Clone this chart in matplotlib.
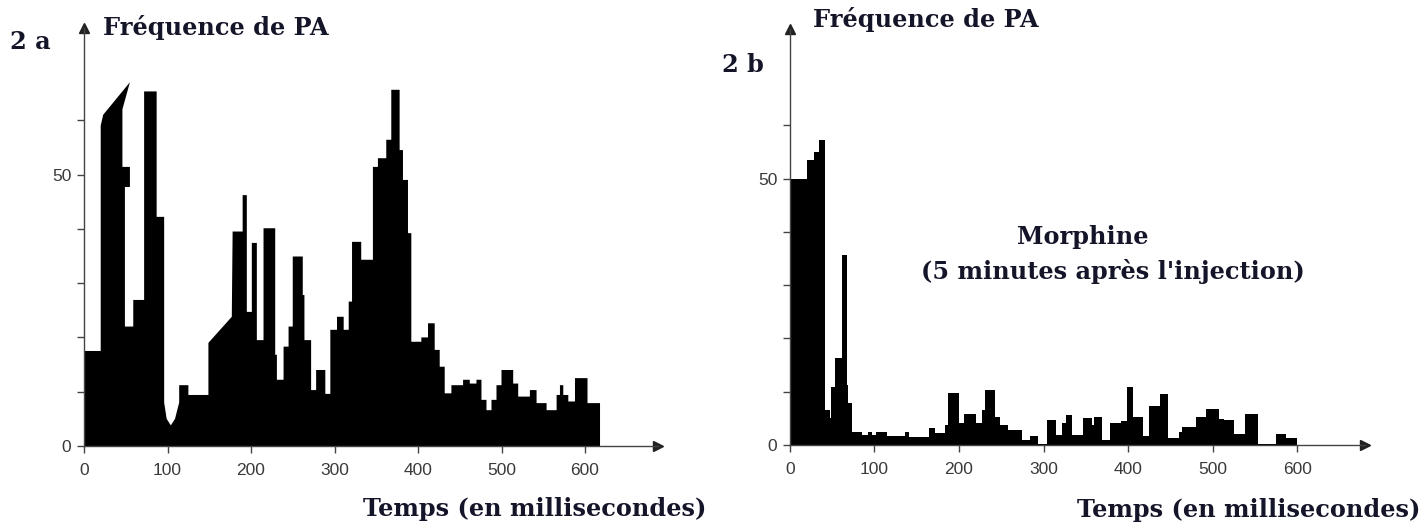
import numpy as np
import matplotlib.pyplot as plt

# 2a : fréquence de PA avant morphine (temps en ms, fréquence)
temps_a = [0, 20, 20, 23, 55, 46, 46, 55, 55, 49, 49, 59, 59, 72, 72, 87, 87, 96,
           96, 99, 104, 109, 114, 114, 125, 125, 149, 149, 177, 178, 190, 190, 195, 195,
           201, 201, 207, 207, 215, 215, 229, 229, 231, 231, 239, 239, 245, 245,
           250, 250, 262, 262, 264, 264, 272, 272, 278, 278, 289, 289, 295, 295,
           303, 303, 311, 311, 317, 317, 321, 321, 332, 332, 346, 346, 352, 352,
           362, 362, 368, 368, 378, 378, 382, 382, 388, 388, 392, 392, 404, 404,
           412, 412, 420, 420, 426, 426, 432, 432, 440, 440, 454, 454, 462, 462,
           470, 470, 476, 476, 482, 482, 488, 488, 494, 494, 500, 500, 514, 514,
           520, 520, 534, 534, 542, 542, 554, 554, 566, 566, 570, 570, 574, 574,
           580, 580, 588, 588, 603, 603, 618, 618]
freq_a = [17.5, 17.5, 59, 61, 67, 62, 51.4, 51.4, 47.7, 47.7, 22, 22, 26.9, 26.9,
          65.3, 65.3, 42.2, 42.2, 8, 5, 3.8, 5, 8, 11.2, 11.2, 9.4, 9.4, 19, 23.8,
          39.5, 39.5, 46.2, 46.2, 24.7, 24.7, 37.4, 37.4, 19.5, 19.5, 40.1, 40.1,
          16.8, 16.8, 12.2, 12.2, 18.3, 18.3, 22, 22, 34.9, 34.9, 27.8, 27.8, 19.5,
          19.5, 10.3, 10.3, 14, 14, 9.6, 9.6, 21.4, 21.4, 23.8, 23.8, 21.4, 21.4,
          26.6, 26.6, 37.6, 37.6, 34.3, 34.3, 51.4, 51.4, 53, 53, 56.4, 56.4, 65.6,
          65.6, 54.5, 54.5, 49, 49, 39.2, 39.2, 19.2, 19.2, 20, 20, 22.6, 22.6,
          17.7, 17.7, 14.6, 14.6, 9.7, 9.7, 11.2, 11.2, 12.2, 12.2, 11.5, 11.5,
          12.2, 12.2, 8.5, 8.5, 6.6, 6.6, 8.5, 8.5, 11.2, 11.2, 14, 14, 11.5, 11.5,
          9.1, 9.1, 10.3, 10.3, 7.9, 7.9, 6.6, 6.6, 9.4, 9.4, 11.2, 11.2, 9.4, 9.4,
          8.2, 8.2, 12.5, 12.5, 7.9, 7.9, 0]

# 2b : après injection de morphine
temps_b = [0, 20, 20, 29, 29, 34, 34, 41, 41, 47, 47, 49, 49, 53, 53, 62, 62, 67,
           67, 69, 69, 74, 74, 85, 85, 92, 92, 97, 97, 102, 102, 115, 115, 136, 136,
           141, 141, 165, 165, 171, 171, 183, 183, 187, 187, 200, 200, 206, 206, 220,
           220, 227, 227, 231, 231, 243, 243, 249, 249, 258, 258, 274, 274, 284, 284,
           293, 293, 304, 304, 315, 315, 322, 322, 327, 327, 334, 334, 346, 346, 357,
           357, 360, 360, 369, 369, 379, 379, 392, 392, 398, 398, 406, 406, 418, 418,
           424, 424, 437, 437, 447, 447, 460, 460, 464, 464, 480, 480, 492, 492, 507,
           507, 513, 513, 525, 525, 538, 538, 554, 554, 575, 575, 587, 587, 600, 600]
freq_b = [50, 50, 53.5, 53.5, 55, 55, 57.2, 57.2, 6.6, 6.6, 5.1, 5.1, 10.9, 10.9,
          16.3, 16.3, 35.6, 35.6, 11.3, 11.3, 7.9, 7.9, 2.5, 2.5, 1.9, 1.9, 2.5, 2.5,
          1.9, 1.9, 2.5, 2.5, 1.6, 1.6, 2.5, 2.5, 1.5, 1.5, 3.1, 3.1, 2.2, 2.2, 3.75,
          3.75, 9.7, 9.7, 4.1, 4.1, 5.9, 5.9, 4.1, 4.1, 6.6, 6.6, 10.3, 10.3, 5.3,
          5.3, 3.75, 3.75, 2.8, 2.8, 0.9, 0.9, 1.7, 1.7, 0.2, 0.2, 4.7, 4.7, 1.9,
          1.9, 4.1, 4.1, 5.6, 5.6, 1.9, 1.9, 5, 5, 3.8, 3.8, 5.3, 5.3, 0.9, 0.9, 4.1,
          4.1, 4.5, 4.5, 10.8, 10.8, 5.2, 5.2, 1.75, 1.75, 7.4, 7.4, 9.6, 9.6, 1.4,
          1.4, 2.4, 2.4, 3.3, 3.3, 5.2, 5.2, 6.75, 6.75, 4.9, 4.9, 4.6, 4.6, 2.1,
          2.1, 5.8, 5.8, 0.1, 0.1, 2.1, 2.1, 1.25, 1.25, 0]

x_ticks = [0, 100, 200, 300, 400, 500, 600]
y_ticks = [0, 10, 20, 30, 40, 50, 60]
y_labels = ['0', '', '', '', '', '50', '']

W, H = 1427, 524
fig = plt.figure(figsize=(W / 100, H / 100), dpi=100)

titre = dict(family='DejaVu Serif', weight='bold', color='#15152a', fontsize=17.3)


def panel(rect, t, f, x_end, y_end):
    ax = fig.add_axes(rect)
    ax.fill([0] + t, [0] + f, color='black', lw=0)
    ax.set_xlim(-10, 700)
    ax.set_ylim(-3, 80)
    for s in ['top', 'right']:
        ax.spines[s].set_visible(False)
    ax.spines['left'].set_position(('data', 0))
    ax.spines['bottom'].set_position(('data', 0))
    ax.spines['left'].set_bounds(0, y_end)
    ax.spines['bottom'].set_bounds(0, x_end)
    for s in ['left', 'bottom']:
        ax.spines[s].set_color('#444444')
        ax.spines[s].set_linewidth(1.0)
    ax.plot([0], [y_end], marker='^', color='#222222', ms=7, clip_on=False)
    ax.plot([x_end], [0], marker='>', color='#222222', ms=7, clip_on=False)
    ax.set_xticks(x_ticks)
    ax.set_yticks(y_ticks)
    ax.set_yticklabels(y_labels)
    ax.tick_params(length=5, width=1, color='#444444', labelcolor='#3a3a3a',
                   labelsize=12.5)
    ax.tick_params(axis='x', pad=7)
    ax.tick_params(axis='y', pad=4)
    for lab in ax.get_xticklabels() + ax.get_yticklabels():
        lab.set_family('Liberation Sans')
    ax.patch.set_alpha(0)
    return ax


# axes placés pour que 0 ms tombe sur l'axe vertical de chaque figure
panel([75.65 / W, (H - 462.3) / H, 592.85 / W, 83 * 5.43 / H], temps_a, freq_a, 687, 77)
panel([781.4 / W, (H - 461.0) / H, 600.6 / W, 83 * 5.33 / H], temps_b, freq_b, 680, 78)

fig.text(10 / W, 1 - 42 / H, '2 a', va='center', ha='left', **titre)
fig.text(103 / W, 1 - 28 / H, 'Fréquence de PA', va='center', ha='left', **titre)
fig.text(722 / W, 1 - 65 / H, '2 b', va='center', ha='left', **titre)
fig.text(813 / W, 1 - 20 / H, 'Fréquence de PA', va='center', ha='left', **titre)
fig.text(535 / W, 1 - 509 / H, 'Temps (en millisecondes)', va='center', ha='center', **titre)
fig.text(1249 / W, 1 - 510 / H, 'Temps (en millisecondes)', va='center', ha='center', **titre)
fig.text(1083 / W, 1 - 237 / H, 'Morphine', va='center', ha='center', **titre)
fig.text(1113 / W, 1 - 272 / H, "(5 minutes après l'injection)", va='center', ha='center', **titre)

fig.savefig('out.png', dpi=100)
